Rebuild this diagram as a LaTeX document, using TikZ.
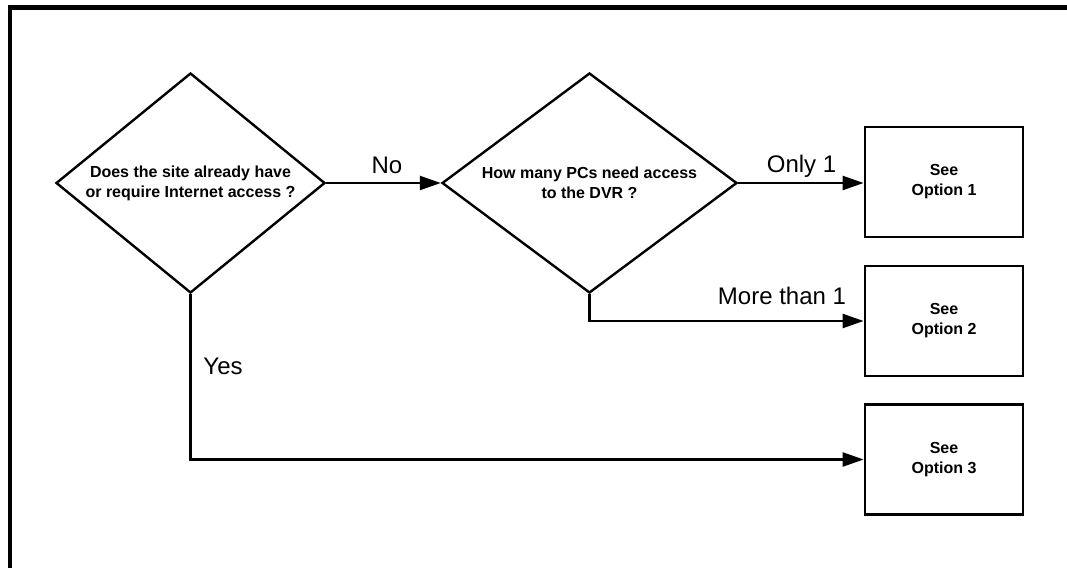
\documentclass[tikz,border=0pt]{standalone}
\usepackage{fontspec}
\setmainfont{Liberation Sans}
\usetikzlibrary{shapes.geometric,arrows.meta}
\begin{document}
\begin{tikzpicture}[x=1pt,y=-1pt,
  decision/.style={diamond, draw, line width=2.4pt, inner sep=0pt, shape aspect=1.22,
    align=center, font=\fontsize{16}{20}\selectfont\bfseries},
  option/.style={rectangle, draw, line width=2.8pt, minimum width=158pt, minimum height=110pt,
    align=center, font=\fontsize{16}{20}\selectfont\bfseries},
  conn/.style={line width=2.4pt, -{Triangle[length=21pt,width=14pt]}},
  lbl/.style={font=\fontsize{24}{28}\selectfont, anchor=base, inner sep=0pt}]
\useasboundingbox (0,0) rectangle (1067,567);
% frame
\draw[line width=4.5pt] (10,570) -- (10,7.5) -- (1070,7.5);
% decisions
\node[decision, minimum width=269pt, minimum height=220pt] (d1) at (190.5,183)
  {Does the site already have\\or require Internet access ?};
\node[decision, minimum width=295pt, minimum height=220pt] (d2) at (589.5,183)
  {How many PCs need access\\to the DVR ?};
% options
\node[option] (o1) at (944,182) {See\\Option 1};
\node[option] (o2) at (944,321) {See\\Option 2};
\node[option] (o3) at (944,459.5) {See\\Option 3};
% connectors
\draw[conn] (d1.east) -- (d2.west);
\draw[conn] (d2.east) -- (d2.east -| o1.west);
\coordinate (c2) at (d2.south |- o2.west);
\draw[conn] (d2.south) -- (c2) -- (o2.west);
\coordinate (c3) at (d1.south |- o3.west);
\draw[conn] (d1.south) -- (c3) -- (o3.west);
% labels
\node[lbl] (lno) at (387,173) {No};
\node[lbl] (lonly) at (801.5,172) {Only 1};
\node[lbl] (lmore) at (782,304) {More than 1};
\node[lbl] (lyes) at (223,374) {Yes};
\end{tikzpicture}
\end{document}
